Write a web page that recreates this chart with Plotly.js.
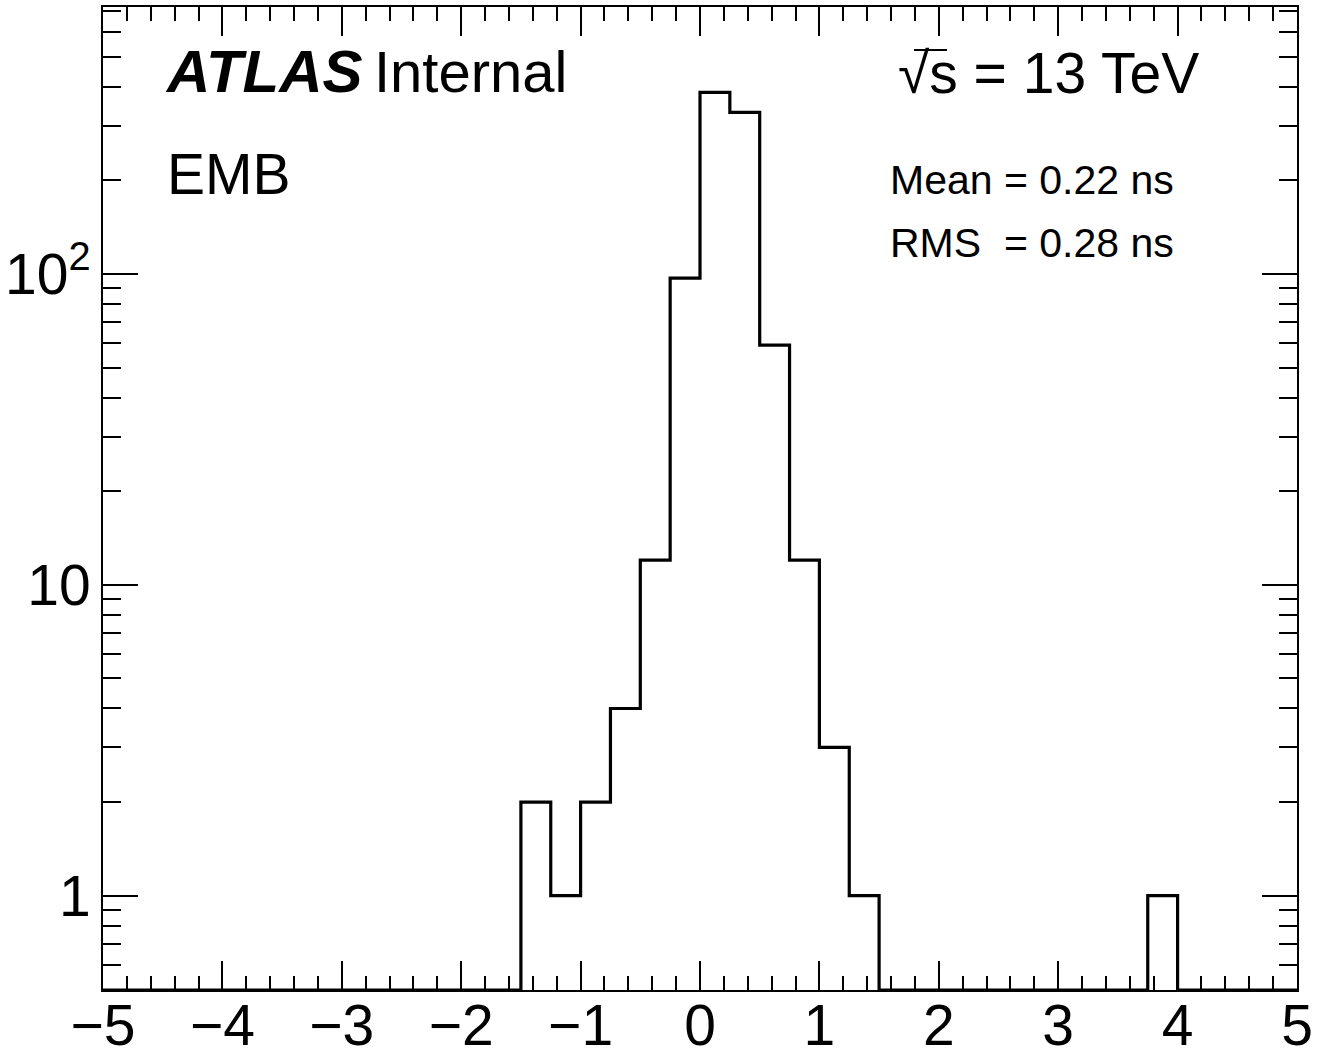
<!DOCTYPE html>
<html>
<head>
<meta charset="utf-8">
<script src="https://cdn.plot.ly/plotly-3.0.1.min.js"></script>
<style>html,body{margin:0;padding:0;background:#fff;}#plot{width:1317px;height:1050px;}</style>
</head>
<body>
<div id="plot"></div>
<script>
// Histogram definition: 40 bins of width 0.25 from -5 to 5
const binLow = -5;
const binWidth = 0.25;
const binCounts = [
  0,0,0,0,0,0,0,0,0,0,
  0,0,0,0,2,1,2,4,12,97,
  384,331,59,12,3,1,0,0,0,0,
  0,0,0,0,0,1,0,0,0,0
];
const xTickVals = [-5,-4,-3,-2,-1,0,1,2,3,4,5];
const yTickVals = [1,10,100];
const yTickText = ["1","10","10<sup>2</sup>"];
const yMinorVals = [0.6,0.7,0.8,0.9,2,3,4,5,6,7,8,9,20,30,40,50,60,70,80,90,200,300,400,500,600,700];
const yMin = 0.497, yMaxLog = 2.859;

// step outline; empty bins drawn on the bottom edge as in ROOT
const xs = [], ys = [];
for (let i = 0; i < binCounts.length; i++) {
  xs.push(binLow + i * binWidth);
  ys.push(binCounts[i] > 0 ? binCounts[i] : yMin);
}
xs.push(binLow + binCounts.length * binWidth);
ys.push(ys[ys.length - 1]);

const font = "Liberation Sans, Arial, Helvetica, sans-serif";
const trace = {
  x: xs, y: ys, type: 'scatter', mode: 'lines',
  line: {shape: 'hv', color: '#000', width: 3.2},
  hoverinfo: 'skip', showlegend: false
};

const W = 1317, H = 1050, L = 103, R = 20, T = 7, B = 60;
const pw = W - L - R, ph = H - T - B;
function px(x) { return (x - L) / pw; }
function py(y) { return (H - B - y) / ph; }

const ann = (text, x, y, size) => ({
  text: text, xref: 'paper', yref: 'paper', x: px(x), y: py(y),
  xanchor: 'left', yanchor: 'middle', showarrow: false,
  font: {family: font, size: size, color: '#000'}
});

const layout = {
  width: W, height: H,
  margin: {l: L, r: R, t: T, b: B, pad: 0},
  paper_bgcolor: '#fff', plot_bgcolor: '#fff',
  font: {family: font, color: '#000'},
  xaxis: {
    range: [-5, 5], tickmode: 'array', tickvals: xTickVals,
    ticks: 'inside', ticklen: 29, tickwidth: 2, tickcolor: '#000',
    showline: true, linecolor: '#000', linewidth: 2, mirror: 'allticks',
    showgrid: false, zeroline: false,
    tickfont: {family: font, size: 57, color: '#000'},
    minor: {dtick: 0.2, ticks: 'inside', ticklen: 14, tickwidth: 2, tickcolor: '#000', showgrid: false},
    ticklabelstandoff: -15
  },
  yaxis: {
    type: 'log', range: [Math.log10(yMin), yMaxLog],
    tickmode: 'array', tickvals: yTickVals, ticktext: yTickText,
    ticks: 'inside', ticklen: 35, tickwidth: 2, tickcolor: '#000',
    showline: true, linecolor: '#000', linewidth: 2, mirror: 'allticks',
    showgrid: false, zeroline: false,
    tickfont: {family: font, size: 57, color: '#000'},
    minor: {tickmode: 'array', tickvals: yMinorVals, ticks: 'inside', ticklen: 18, tickwidth: 2, tickcolor: '#000', showgrid: false},
    ticklabelstandoff: -1
  },
  shapes: [
    // overline of the square-root sign
    {type: 'line', xref: 'paper', yref: 'paper', x0: px(914), x1: px(947), y0: py(50), y1: py(50),
     line: {color: '#000', width: 2}}
  ],
  annotations: [
    ann('<b><i>ATLAS</i></b>', 163, 72, 60),
    ann('Internal', 372, 72, 58),
    ann('EMB', 165, 174, 57),
    ann('√s = 13 TeV', 896, 73, 57),
    ann('Mean = 0.22 ns', 888, 180, 41),
    ann('RMS  = 0.28 ns', 888, 243, 41)
  ]
};

Plotly.newPlot('plot', [trace], layout, {staticPlot: true, displayModeBar: false});
</script>
</body>
</html>
